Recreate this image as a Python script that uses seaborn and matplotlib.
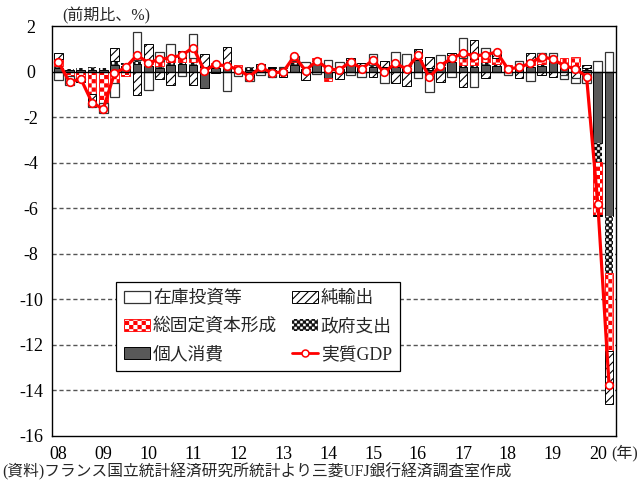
import warnings
warnings.filterwarnings("ignore")
import numpy as np
import matplotlib
matplotlib.use("Agg")
import matplotlib.pyplot as plt
import matplotlib.hatch as mhatch
from matplotlib.path import Path
from matplotlib.patches import Patch
from matplotlib.lines import Line2D
import seaborn as sns

# ---------------- data ----------------
quarters = [f"{y}Q{q}" for y in range(2008, 2021) for q in range(1, 5)][:50]
year_labels = ["08", "09", "10", "11", "12", "13", "14", "15", "16", "17", "18", "19", "20"]

consumption = [0.15, 0.05, 0.05, 0.05, 0.05, 0.30, 0.25, 0.35, 0.25, 0.15,
               0.30, 0.35, 0.30, -0.73, 0.15, 0.10, 0.08, 0.06, 0.10, 0.05,
               0.05, 0.30, 0.12, 0.35, -0.30, 0.10, 0.35, 0.15, 0.20, 0.10,
               0.20, 0.15, 0.50, 0.05, 0.20, 0.40, 0.20, 0.20, 0.30, 0.25,
               0.10, 0.10, 0.20, 0.25, 0.40, 0.20, 0.15, 0.05, -3.14, -6.36]
government = [0.10, 0.07, 0.10, 0.13, 0.10, 0.15, 0.14, 0.15, 0.10, 0.10,
              0.10, 0.08, 0.10, 0.10, 0.10, 0.10, 0.12, 0.13, 0.12, 0.10,
              0.10, 0.10, 0.10, 0.10, 0.12, 0.10, 0.12, 0.10, 0.10, 0.10,
              0.10, 0.10, 0.10, 0.10, 0.10, 0.12, 0.10, 0.10, 0.10, 0.08,
              0.07, 0.08, 0.10, 0.10, 0.10, 0.10, 0.10, 0.10, -0.81, -2.48]
gfcf = [0.30, -0.20, -0.30, -1.00, -1.40, -0.50, -0.21, 0.00, 0.05, 0.20,
        0.25, 0.15, 0.20, 0.10, 0.14, 0.05, 0.08, -0.12, 0.00, -0.10,
        -0.12, 0.05, 0.00, 0.13, -0.10, 0.00, 0.05, 0.00, 0.00, 0.00,
        0.05, 0.00, 0.15, 0.00, 0.00, 0.20, 0.30, 0.25, 0.30, 0.25,
        0.10, 0.00, 0.15, 0.20, 0.20, 0.28, 0.38, 0.00, -2.34, -3.44]
net_exports = [0.25, 0.00, -0.16, -0.39, 0.00, 0.60, 0.00, -1.02, 0.82, -0.34,
               -0.58, 0.32, -0.58, 0.57, -0.08, 0.85, 0.00, -0.15, 0.10, 0.05,
               -0.12, -0.02, -0.36, 0.00, 0.00, -0.34, 0.06, 0.12, -0.25, 0.28,
               -0.50, -0.63, 0.25, 0.50, -0.46, 0.10, -0.66, 0.84, -0.29, 0.30,
               0.00, -0.30, 0.35, -0.14, -0.26, -0.15, -0.30, 0.14, -0.07, -2.32]
inventories = [-0.36, -0.38, 0.00, -0.15, -0.40, -0.62, 0.00, 1.23, -0.83, 0.42,
               0.54, -0.18, 1.03, 0.00, 0.00, -0.85, -0.19, -0.14, -0.14, -0.15,
               0.07, 0.25, 0.18, -0.10, 0.40, 0.20, -0.14, -0.25, 0.46, -0.52,
               0.52, 0.50, -0.27, -0.90, 0.42, -0.24, 0.86, -0.69, 0.32, -0.02,
               -0.15, 0.30, -0.43, 0.25, 0.10, -0.17, -0.21, -0.51, 0.48, 0.88]
real_gdp = [0.44, -0.47, -0.31, -1.36, -1.65, -0.07, 0.18, 0.72, 0.39, 0.53,
            0.61, 0.72, 1.05, 0.04, 0.31, 0.25, 0.09, -0.22, 0.18, -0.05,
            -0.02, 0.68, 0.04, 0.48, 0.12, 0.06, 0.44, 0.12, 0.51, -0.04,
            0.37, 0.10, 0.73, -0.25, 0.26, 0.58, 0.80, 0.70, 0.73, 0.86,
            0.12, 0.18, 0.37, 0.66, 0.54, 0.26, 0.12, -0.22, -5.80, -13.74]

# ---------------- custom fill patterns ----------------
class _SquareHatch(mhatch.HatchPatternBase):
    key = None
    cells_per_tile = 24
    inset = 0.0

    def __init__(self, hatch, density):
        if self.key in hatch:
            n = self.cells_per_tile
            self.cells = [(i, j) for i in range(n) for j in range(n) if (i + j) % 2 == 0]
        else:
            self.cells = []
        self.num_vertices = 5 * len(self.cells)

    def set_vertices_and_codes(self, vertices, codes):
        n = self.cells_per_tile
        s = 1.0 / n
        d = self.inset
        k = 0
        for i, j in self.cells:
            x0, y0 = i * s + d, j * s + d
            x1, y1 = (i + 1) * s - d, (j + 1) * s - d
            vertices[k:k + 5] = [(x0, y0), (x1, y0), (x1, y1), (x0, y1), (x0, y0)]
            codes[k:k + 5] = [Path.MOVETO, Path.LINETO, Path.LINETO, Path.LINETO, Path.CLOSEPOLY]
            k += 5


class RedChecker(_SquareHatch):
    key = "c"
    cells_per_tile = 24
    inset = 0.0055


class GovDots(_SquareHatch):
    key = "d"
    cells_per_tile = 34
    inset = 0.008


mhatch._hatch_types.extend([RedChecker, GovDots])

# ---------------- style ----------------
sns.set_style("white")
plt.rcParams["font.family"] = ["Liberation Serif", "Noto Sans CJK JP", "DejaVu Sans"]
plt.rcParams["axes.unicode_minus"] = False
plt.rcParams["hatch.linewidth"] = 0.8

W, H = 637, 484
fig = plt.figure(figsize=(W / 100, H / 100), dpi=100)
ax = fig.add_axes([52 / W, 1 - 436 / H, 564 / W, 410 / H])

styles = {
    "個人消費": dict(facecolor="#595959", edgecolor="black", linewidth=0.7, hatch=None),
    "政府支出": dict(facecolor="#111111", edgecolor="white", linewidth=0.0, hatch="d"),
    "総固定資本形成": dict(facecolor="white", edgecolor="#ff0000", linewidth=0.6, hatch="c"),
    "純輸出": dict(facecolor="white", edgecolor="black", linewidth=0.7, hatch="////"),
    "在庫投資等": dict(facecolor="white", edgecolor="#333333", linewidth=0.9, hatch=None),
}
series = [("個人消費", consumption), ("政府支出", government),
          ("総固定資本形成", gfcf), ("純輸出", net_exports), ("在庫投資等", inventories)]

n = len(quarters)
pos_base = np.zeros(n)
neg_base = np.zeros(n)
for name, vals in series:
    v = np.asarray(vals, dtype=float)
    bottom = np.where(v >= 0, pos_base, neg_base)
    before = len(ax.patches)
    sns.barplot(x=quarters, y=v, bottom=bottom, width=0.77, errorbar=None,
                color="white", saturation=1, ax=ax, zorder=2)
    st = styles[name]
    for p, val in zip(ax.patches[before:], v):
        p.set_facecolor(st["facecolor"])
        p.set_edgecolor(st["edgecolor"])
        p.set_linewidth(st["linewidth"])
        p.set_hatch(st["hatch"])
        p.set_zorder(2)
        if abs(val) < 1e-9:
            p.set_visible(False)
    pos_base += np.where(v > 0, v, 0)
    neg_base += np.where(v < 0, v, 0)

sns.lineplot(x=np.arange(n), y=real_gdp, color="#ff0000", linewidth=2.3,
             marker="o", markersize=5.5, markerfacecolor="white",
             markeredgecolor="#ff0000", markeredgewidth=1.2, ax=ax, zorder=4)

# grid lines
for yv in range(-14, 0, 2):
    ax.axhline(yv, color="#555555", linewidth=1.0, linestyle=(0, (3, 2)), zorder=0.5)
ax.axhline(0, color="black", linewidth=1.0, zorder=3)

ax.set_xlim(-0.56, 49.62)
ax.set_ylim(-16, 2)
ax.set_xticks(range(0, n, 4))
ax.set_xticklabels(year_labels)
ax.set_yticks(range(-16, 3, 2))
ax.set_yticklabels([str(t) for t in range(-16, 3, 2)])
ax.set_xlabel("")
ax.set_ylabel("")
ax.tick_params(axis="both", length=0, labelsize=13, colors="black")
ax.tick_params(axis="y", pad=15)
ax.tick_params(axis="x", pad=7)
for lbl in ax.get_yticklabels():
    lbl.set_ha("center")
for sp in ax.spines.values():
    sp.set_visible(True)
    sp.set_color("black")
    sp.set_linewidth(1.0)

# legend
handles = [
    Patch(facecolor="white", edgecolor="#333333", linewidth=0.9),
    Patch(facecolor="white", edgecolor="#ff0000", linewidth=0.6, hatch="c"),
    Patch(facecolor="#595959", edgecolor="black", linewidth=0.7),
    Patch(facecolor="white", edgecolor="black", linewidth=0.7, hatch="////"),
    Patch(facecolor="#111111", edgecolor="white", linewidth=0.0, hatch="d"),
    Line2D([0], [0], color="#ff0000", linewidth=2.0, marker="o", markersize=5,
           markerfacecolor="white", markeredgecolor="#ff0000", markeredgewidth=1.1),
]
labels = ["在庫投資等", "総固定資本形成", "個人消費", "純輸出", "政府支出", "実質GDP"]
leg = ax.legend(handles, labels, ncol=2, loc="upper left", bbox_to_anchor=(0.113, 0.376),
                frameon=True, fancybox=False, edgecolor="black", framealpha=1,
                borderaxespad=0, handlelength=1.5, handleheight=0.65, handletextpad=0.15,
                columnspacing=0.8, labelspacing=0.62, borderpad=0.45, fontsize=12.8)
leg.get_frame().set_linewidth(0.9)
leg.set_zorder(5)

# texts
fig.text(62 / W, 1 - 16 / H, "(前期比、%)", ha="left", va="center", fontsize=11.5)
fig.text(611 / W, 1 - 453 / H, "(年)", ha="left", va="center", fontsize=11.5)
fig.text(2 / W, 1 - 472 / H, "(資料)フランス国立統計経済研究所統計より三菱UFJ銀行経済調査室作成",
         ha="left", va="center", fontsize=11.3)

fig.savefig("out.png", dpi=100)
